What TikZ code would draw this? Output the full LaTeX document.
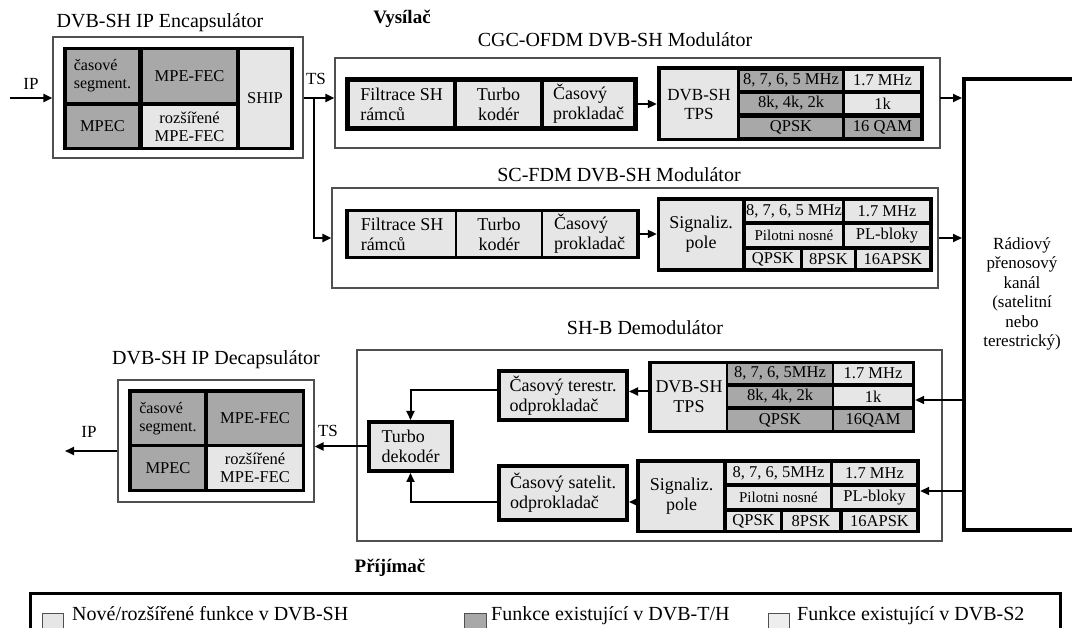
\documentclass[tikz,border=0pt]{standalone}
\usepackage{fontspec}
\setmainfont{Liberation Serif}
\usetikzlibrary{arrows.meta}
\definecolor{cnew}{HTML}{E6E6E6}
\definecolor{ctdh}{HTML}{A8A8A8}
\definecolor{cstwo}{HTML}{EEEEEE}
\definecolor{frame}{HTML}{505050}
\newcommand\mycell[8][]{\node[cellbox, fill=#7, minimum width={(#5-#3)*1pt}, minimum height={(#6-#4)*1pt}, #1] (#2) at ({(#3+#5)/2},{(#4+#6)/2}) {#8};}
\tikzset{
  cellbox/.style={rectangle, inner sep=0pt, align=center, font=\fontsize{16.5}{18}\selectfont},
  blocktxt/.style={font=\fontsize{18}{20}\selectfont},
  outerbox/.style={draw=frame, line width=1.2pt},
  thickbox/.style={draw=black, line width=4pt},
  titletxt/.style={font=\fontsize{20}{22}\selectfont, anchor=base, inner sep=0pt},
  lbltxt/.style={font=\fontsize{17}{19}\selectfont, anchor=base, inner sep=0pt},
  boldtxt/.style={font=\fontsize{19}{21}\selectfont\bfseries, anchor=base, inner sep=0pt},
  legtxt/.style={font=\fontsize{20}{22}\selectfont, anchor=base west, inner sep=0pt},
  arr/.style={line width=2pt, -{Triangle[length=9pt,width=8pt]}},
  thinarr/.style={line width=1.5pt, -{Triangle[length=9pt,width=8pt]}},
  conn/.style={line width=2pt},
}
\begin{document}
\begin{tikzpicture}[x=1pt,y=-1pt]
\useasboundingbox (0,0) rectangle (1072,628);
% ---------- titles ----------
\node[titletxt] (enctitle) at (160,28) {DVB-SH IP Encapsulátor};
\node[boldtxt] (vys) at (402,24) {Vysílač};
\node[titletxt] (cgctitle) at (615,47) {CGC-OFDM DVB-SH Modulátor};
\node[titletxt] (sctitle) at (619,182) {SC-FDM DVB-SH Modulátor};
\node[titletxt] (demtitle) at (645,335) {SH-B Demodulátor};
\node[titletxt] (dectitle) at (216,365) {DVB-SH IP Decapsulátor};
\node[boldtxt] (prij) at (390,572) {Příjímač};
% ---------- encapsulator ----------
\mycell[outerbox]{encbox}{53}{37}{303}{158}{white}{}
\mycell{eblk}{63}{47}{294}{150}{black}{}
\mycell[align=left, font=\fontsize{16}{18}\selectfont]{ecs}{67}{50}{138}{102}{ctdh}{časové\\segment.}
\mycell{emf}{143}{50}{236}{102}{ctdh}{MPE-FEC}
\mycell{emp}{67}{106}{138}{147}{ctdh}{MPEC}
\mycell{erz}{143}{106}{236}{147}{cnew}{rozšířené\\MPE-FEC}
\mycell{esh}{240}{50}{290}{147}{cnew}{SHIP}
% ---------- CGC-OFDM modulator ----------
\mycell[outerbox]{cgcbox}{335}{58}{940}{148}{white}{}
\mycell{cA}{345}{77}{638}{131}{black}{}
\mycell[align=left, blocktxt]{cA1}{350}{82}{453}{126}{cnew}{Filtrace SH\\rámců}
\mycell[blocktxt]{cA2}{457}{82}{540}{126}{cnew}{Turbo\\kodér}
\mycell[align=left, blocktxt]{cA3}{544}{82}{633}{126}{cnew}{Časový\\prokladač}
\mycell{tA}{657}{66}{924}{141}{black}{}
\mycell[font=\fontsize{17}{19}\selectfont]{tA0}{661}{70}{737}{138}{cnew}{DVB-SH\\TPS}
\mycell{tA1}{740}{71}{842}{90}{ctdh}{8, 7, 6, 5 MHz}
\mycell{tA2}{845}{71}{920}{90}{cnew}{1.7 MHz}
\mycell{tA3}{740}{94}{842}{113}{ctdh}{8k, 4k, 2k}
\mycell{tA4}{845}{94}{920}{113}{cnew}{1k}
\mycell{tA5}{740}{118}{842}{137}{ctdh}{QPSK}
\mycell{tA6}{845}{118}{920}{137}{ctdh}{16 QAM}
% ---------- SC-FDM modulator ----------
\mycell[outerbox]{scbox}{332}{188}{938}{288}{white}{}
\mycell{cB}{345}{209}{640}{259}{black}{}
\mycell[align=left, blocktxt]{cB1}{349}{212}{455}{256}{cnew}{Filtrace SH\\rámců}
\mycell[blocktxt]{cB2}{457}{212}{541}{256}{cnew}{Turbo\\kodér}
\mycell[align=left, blocktxt]{cB3}{543}{212}{636}{256}{cnew}{Časový\\prokladač}
\mycell{sB}{657}{197}{933}{272}{black}{}
\mycell[blocktxt]{sB0}{660}{201}{742}{268}{cnew}{Signaliz.\\pole}
\mycell{sB1}{746}{201}{842}{221}{cnew}{8, 7, 6, 5 MHz}
\mycell{sB2}{845}{201}{929}{221}{cnew}{1.7 MHz}
\mycell[font=\fontsize{15}{17}\selectfont]{sB3}{746}{225}{842}{246}{cnew}{Pilotni nosné}
\mycell{sB4}{845}{225}{929}{246}{cnew}{PL-bloky}
\mycell{sB5}{746}{250}{800}{268}{cnew}{QPSK}
\mycell{sB6}{803}{250}{854}{268}{cnew}{8PSK}
\mycell{sB7}{857}{250}{929}{268}{cnew}{16APSK}
% ---------- channel ----------
\mycell[thickbox]{chan}{964}{79}{1095}{530}{white}{}
\node[align=center, font=\fontsize{17}{19.5}\selectfont, inner sep=0pt] (chantxt) at (1022,294) {Rádiový\\přenosový\\kanál\\(satelitní\\nebo\\terestrický)};
% ---------- demodulator ----------
\mycell[outerbox]{dembox}{357}{350}{942}{541}{white}{}
\mycell[thickbox, align=left, blocktxt]{cter}{499}{371}{627}{420}{cnew}{Časový terestr.\\odprokladač}
\mycell[thickbox, align=left, blocktxt]{turbo}{369}{422}{452}{471}{cnew}{Turbo\\dekodér}
\mycell[thickbox, align=left, blocktxt]{csat}{499}{466}{627}{520}{cnew}{Časový satelit.\\odprokladač}
\mycell{tB}{648}{361}{915}{433}{black}{}
\mycell[blocktxt]{tB0}{652}{364}{726}{430}{cnew}{DVB-SH\\TPS}
\mycell{tB1}{728}{364}{832}{383}{ctdh}{8, 7, 6, 5MHz}
\mycell{tB2}{834}{364}{912}{383}{cnew}{1.7 MHz}
\mycell{tB3}{728}{387}{832}{406}{ctdh}{8k, 4k, 2k}
\mycell{tB4}{834}{387}{912}{406}{cnew}{1k}
\mycell{tB5}{728}{410}{832}{430}{ctdh}{QPSK}
\mycell{tB6}{834}{410}{912}{430}{ctdh}{16QAM}
\mycell{sC}{636}{459}{920}{533}{black}{}
\mycell[blocktxt]{sC0}{640}{463}{723}{530}{cnew}{Signaliz.\\pole}
\mycell{sC1}{727}{463}{830}{483}{cnew}{8, 7, 6, 5MHz}
\mycell{sC2}{833}{463}{916}{483}{cnew}{1.7 MHz}
\mycell[font=\fontsize{15}{17}\selectfont]{sC3}{727}{487}{830}{508}{cnew}{Pilotni nosné}
\mycell{sC4}{833}{487}{916}{508}{cnew}{PL-bloky}
\mycell{sC5}{727}{512}{780}{530}{cnew}{QPSK}
\mycell{sC6}{783}{512}{839}{530}{cnew}{8PSK}
\mycell{sC7}{843}{512}{916}{530}{cnew}{16APSK}
% ---------- decapsulator ----------
\mycell[outerbox]{decbox}{118}{380}{314}{502}{white}{}
\mycell{dblk}{128}{389}{305}{492}{black}{}
\mycell[align=left, font=\fontsize{16}{18}\selectfont]{dcs}{132}{393}{204}{444}{ctdh}{časové\\segment.}
\mycell{dmf}{208}{393}{302}{444}{ctdh}{MPE-FEC}
\mycell{dmp}{132}{447}{204}{489}{ctdh}{MPEC}
\mycell{drz}{208}{447}{302}{489}{cnew}{rozšířené\\MPE-FEC}
% ---------- connectors ----------
\coordinate (ipin) at (10,98);
\coordinate (tsb) at (314,98);
\coordinate (o1) at (940,98);
\coordinate (d1) at (962,400);
\coordinate (d2) at (962,491);
\coordinate (ipout) at (65,451);
\draw[arr] (ipin) -- (ipin -| encbox.west);
\draw[arr] (encbox.east |- tsb) -- (tsb -| cgcbox.west);
\draw[arr] (tsb) |- (scbox.west);
\draw[arr] (cA.east) -- (cA.east -| tA.west);
\draw[arr] (o1) -- (o1 -| chan.west);
\draw[arr] (cB.east) -- (cB.east -| sB.west);
\draw[arr] (scbox.east) -- (scbox.east -| chan.west);
\draw[thinarr] (d1) -- (d1 -| tB.east);
\draw[thinarr] (d2) -- (d2 -| sC.east);
\draw[arr] ([yshift=4pt]cter.east -| tB.west) -- ([yshift=4pt]cter.east);
\draw[arr] ([yshift=-9pt]csat.east -| sC.west) -- ([yshift=-9pt]csat.east);
\draw[arr] ([yshift=5pt]cter.west) -| (turbo.north);
\draw[arr] ([yshift=-9pt]csat.west) -| (turbo.south);
\draw[arr] (turbo.west) -- (turbo.west -| decbox.east);
\draw[arr] (decbox.west |- ipout) -- (ipout);
% ---------- labels ----------
\node[lbltxt] (lip1) at (31,90) {IP};
\node[lbltxt] (lts1) at (316,85) {TS};
\node[lbltxt] (lts2) at (328,437) {TS};
\node[lbltxt] (lip2) at (89,438) {IP};
% ---------- legend ----------
\mycell[draw=black, line width=3pt]{legend}{30}{593}{1060}{660}{white}{}
\mycell[draw=frame, line width=1pt]{sq1}{42}{613}{63}{631}{cnew}{}
\mycell[draw=frame, line width=1pt]{sq2}{464}{613}{486}{631}{ctdh}{}
\mycell[draw=frame, line width=1pt]{sq3}{768}{613}{789}{631}{cstwo}{}
\node[legtxt] (lg1) at (72,620) {Nové/rozšířené funkce v DVB-SH};
\node[legtxt] (lg2) at (491,620) {Funkce existující v DVB-T/H};
\node[legtxt] (lg3) at (797,620) {Funkce existující v DVB-S2};
\end{tikzpicture}
\end{document}
